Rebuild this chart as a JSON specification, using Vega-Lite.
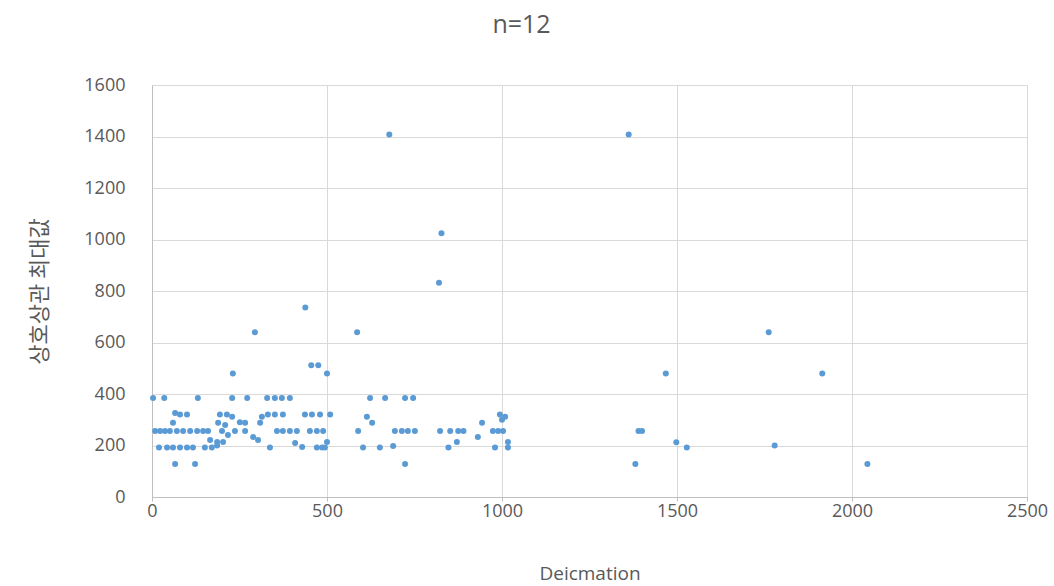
{
  "$schema": "https://vega.github.io/schema/vega-lite/v6.json",
  "width": 875,
  "height": 412,
  "padding": {"left": 152, "top": 85, "right": 27, "bottom": 89},
  "autosize": {"type": "none"},
  "background": "white",
  "title": {"text": "n=12", "fontSize": 25, "font": "Open Sans", "fontWeight": "normal", "color": "#595959", "offset": 38, "dx": -68},
  "config": {"view": {"stroke": null}},
  "data": {"values": [
    {"d": 678, "v": 1408}, {"d": 1362, "v": 1408}, {"d": 827, "v": 1024}, {"d": 820, "v": 832}, {"d": 438, "v": 736},
    {"d": 294, "v": 640}, {"d": 586, "v": 640}, {"d": 1762, "v": 640}, {"d": 231, "v": 480}, {"d": 455, "v": 512},
    {"d": 475, "v": 512}, {"d": 500, "v": 480}, {"d": 1468, "v": 480}, {"d": 1915, "v": 480},
    {"d": 1390, "v": 256}, {"d": 1400, "v": 256}, {"d": 1381, "v": 128}, {"d": 1498, "v": 213}, {"d": 1528, "v": 192},
    {"d": 1779, "v": 200}, {"d": 2044, "v": 128},
    {"d": 3, "v": 384}, {"d": 35, "v": 384}, {"d": 131, "v": 384}, {"d": 229, "v": 384}, {"d": 272, "v": 384},
    {"d": 329, "v": 384}, {"d": 351, "v": 384}, {"d": 371, "v": 384}, {"d": 394, "v": 384}, {"d": 623, "v": 384},
    {"d": 666, "v": 384}, {"d": 723, "v": 384}, {"d": 746, "v": 384},
    {"d": 66, "v": 326}, {"d": 80, "v": 320}, {"d": 100, "v": 320}, {"d": 194, "v": 320}, {"d": 214, "v": 320},
    {"d": 229, "v": 312}, {"d": 314, "v": 312}, {"d": 331, "v": 320}, {"d": 351, "v": 320}, {"d": 374, "v": 320},
    {"d": 437, "v": 320}, {"d": 457, "v": 320}, {"d": 480, "v": 320}, {"d": 509, "v": 320}, {"d": 614, "v": 312},
    {"d": 994, "v": 320}, {"d": 1009, "v": 312}, {"d": 1000, "v": 300},
    {"d": 60, "v": 288}, {"d": 189, "v": 288}, {"d": 209, "v": 280}, {"d": 251, "v": 290}, {"d": 266, "v": 288},
    {"d": 309, "v": 288}, {"d": 629, "v": 288}, {"d": 943, "v": 288},
    {"d": 9, "v": 256}, {"d": 23, "v": 256}, {"d": 37, "v": 256}, {"d": 51, "v": 256}, {"d": 71, "v": 256},
    {"d": 89, "v": 256}, {"d": 109, "v": 256}, {"d": 129, "v": 256}, {"d": 146, "v": 256}, {"d": 160, "v": 256},
    {"d": 200, "v": 256}, {"d": 237, "v": 256}, {"d": 266, "v": 256}, {"d": 357, "v": 256}, {"d": 374, "v": 256},
    {"d": 394, "v": 256}, {"d": 414, "v": 256}, {"d": 451, "v": 256}, {"d": 471, "v": 256}, {"d": 489, "v": 256},
    {"d": 589, "v": 256}, {"d": 694, "v": 256}, {"d": 714, "v": 256}, {"d": 731, "v": 256}, {"d": 751, "v": 256},
    {"d": 823, "v": 256}, {"d": 852, "v": 256}, {"d": 875, "v": 256}, {"d": 890, "v": 256}, {"d": 974, "v": 256},
    {"d": 989, "v": 256}, {"d": 1003, "v": 256},
    {"d": 217, "v": 241}, {"d": 289, "v": 233}, {"d": 303, "v": 221}, {"d": 166, "v": 221}, {"d": 186, "v": 214},
    {"d": 203, "v": 214}, {"d": 409, "v": 210}, {"d": 429, "v": 194}, {"d": 500, "v": 214}, {"d": 931, "v": 233},
    {"d": 871, "v": 214}, {"d": 1017, "v": 214},
    {"d": 20, "v": 192}, {"d": 43, "v": 192}, {"d": 60, "v": 192}, {"d": 80, "v": 192}, {"d": 100, "v": 192},
    {"d": 117, "v": 192}, {"d": 151, "v": 192}, {"d": 171, "v": 192}, {"d": 186, "v": 200}, {"d": 337, "v": 192},
    {"d": 471, "v": 192}, {"d": 486, "v": 192}, {"d": 494, "v": 192}, {"d": 603, "v": 192}, {"d": 651, "v": 192},
    {"d": 689, "v": 198}, {"d": 847, "v": 192}, {"d": 980, "v": 192}, {"d": 1017, "v": 192},
    {"d": 66, "v": 128}, {"d": 123, "v": 128}, {"d": 723, "v": 128}
  ]},
  "mark": {"type": "point", "filled": true, "shape": "circle", "size": 36, "color": "#5B9BD5", "opacity": 1},
  "encoding": {
    "x": {
      "field": "d", "type": "quantitative", "title": "Deicmation",
      "scale": {"domain": [0, 2500], "nice": false, "zero": true},
      "axis": {
        "values": [0, 500, 1000, 1500, 2000, 2500], "format": "d", "grid": true, "gridColor": "#D9D9D9", "domainColor": "#BFBFBF",
        "ticks": true, "tickColor": "#BFBFBF", "tickSize": 4, "labelFontSize": 18, "labelFont": "Open Sans", "labelColor": "#595959",
        "labelPadding": 1, "titleFontSize": 19, "titleFont": "Open Sans", "titleFontWeight": "normal", "titleColor": "#595959",
        "titleY": 67, "labelFlush": false
      }
    },
    "y": {
      "field": "v", "type": "quantitative", "title": "상호상관 최대값",
      "scale": {"domain": [0, 1600], "nice": false},
      "axis": {
        "values": [0, 200, 400, 600, 800, 1000, 1200, 1400, 1600], "format": "d", "grid": true, "gridColor": "#D9D9D9", "domainColor": "#BFBFBF",
        "ticks": false, "labelFontSize": 18, "labelFont": "Open Sans", "labelColor": "#595959", "labelPadding": 27,
        "titleFontSize": 22, "titleFont": "Noto Sans CJK KR", "titleFontWeight": "normal", "titleColor": "#595959",
        "titleX": -101
      }
    }
  }
}
